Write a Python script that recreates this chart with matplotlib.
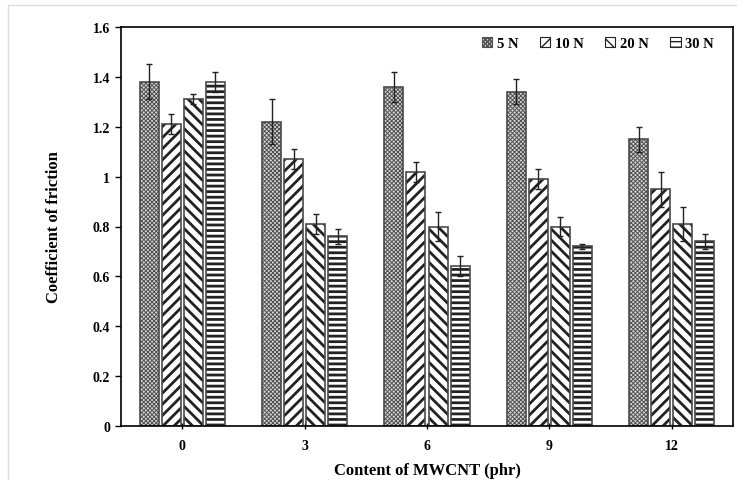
import matplotlib
matplotlib.use("Agg")
import matplotlib.pyplot as plt
import numpy as np
from matplotlib.patches import Rectangle, Patch

categories = ["0", "3", "6", "9", "12"]
series = ["5 N", "10 N", "20 N", "30 N"]
values = {
    "5 N":  [1.38, 1.22, 1.36, 1.34, 1.15],
    "10 N": [1.21, 1.07, 1.02, 0.99, 0.95],
    "20 N": [1.31, 0.81, 0.80, 0.80, 0.81],
    "30 N": [1.38, 0.76, 0.64, 0.72, 0.74],
}
errors = {
    "5 N":  [0.07, 0.09, 0.06, 0.05, 0.05],
    "10 N": [0.04, 0.04, 0.04, 0.04, 0.07],
    "20 N": [0.02, 0.04, 0.06, 0.04, 0.07],
    "30 N": [0.04, 0.03, 0.04, 0.01, 0.03],
}
hatches = ["xxxxxxxx", "///", "\\\\\\", "---"]
faces = ["#d8d8d8", "white", "white", "white"]
hatch_colors = ["#505050", "#222222", "#222222", "#222222"]
hatch_lw = [0.7, 2.0, 2.0, 2.0]

plt.rcParams['font.family'] = ['Liberation Serif', 'DejaVu Serif']
plt.rcParams['font.weight'] = 'bold'

fig = plt.figure(figsize=(7.37, 4.81), dpi=100)
fig.patches.append(Rectangle((8/737, -0.1), 1.2, 1.1 - 6/481, transform=fig.transFigure,
                             fill=False, edgecolor='#dcdcdc', linewidth=1.0))
ax = fig.add_axes([121/737, 1 - 427/481, (733-121)/737, (427-28)/481])

x = np.arange(len(categories))
step = 0.18
width = 0.155
handles = []
for i, s in enumerate(series):
    off = (i - 1.5) * step
    with plt.rc_context({'hatch.linewidth': hatch_lw[i]}):
        bars = ax.bar(x + off, values[s], width, facecolor=faces[i], edgecolor=hatch_colors[i],
                      hatch=hatches[i], linewidth=0, zorder=2)
        handles.append(Patch(facecolor=faces[i], edgecolor=hatch_colors[i],
                             hatch=hatches[i], linewidth=0.8, label=s))
    ax.bar(x + off, values[s], width, fill=False, edgecolor='#4a4a4a',
           linewidth=1.2, zorder=2.5)
    ax.errorbar(x + off, values[s], yerr=errors[s], fmt='none', ecolor='#222222',
                elinewidth=1.0, capsize=2.5, capthick=1.0, zorder=3)

ax.set_xlim(-0.5, len(categories) - 0.5)
ax.set_ylim(0, 1.6)
ax.set_yticks(np.arange(0, 1.61, 0.2))
ax.set_yticklabels(["0", "0.2", "0.4", "0.6", "0.8", "1", "1.2", "1.4", "1.6"])
ax.set_xticks(x)
ax.set_xticklabels(categories)
ax.tick_params(axis='y', direction='out', length=4, width=1, labelsize=10, pad=4)
ax.tick_params(axis='x', direction='inout', length=5, width=1, labelsize=10, pad=7)
for lab in ax.get_xticklabels() + ax.get_yticklabels():
    lab.set_fontweight('bold')
for sp in ['left', 'bottom', 'top', 'right']:
    ax.spines[sp].set_color('black')
    ax.spines[sp].set_linewidth(1.2)
    ax.spines[sp].set_zorder(5)

ax.set_xlabel("Content of MWCNT (phr)", fontsize=12, fontweight='bold', labelpad=7)
ax.set_ylabel("Coefficient of friction", fontsize=12, fontweight='bold', labelpad=22)

leg = ax.legend(handles=handles, loc='upper right', ncol=4, frameon=False,
                handlelength=0.7, handleheight=0.7, handletextpad=0.3,
                columnspacing=1.5, bbox_to_anchor=(0.985, 1.0), borderaxespad=0.3,
                prop={'weight': 'bold', 'size': 10.5})

fig.savefig("out.png", dpi=100)
